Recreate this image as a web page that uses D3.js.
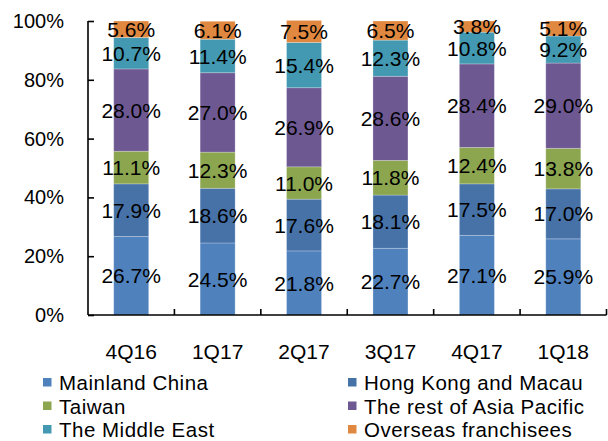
<!DOCTYPE html>
<html>
<head>
<meta charset="utf-8">
<script src="https://cdn.jsdelivr.net/npm/d3@7"></script>
<style>
  body { margin: 0; background: #fff; }
  svg { display: block; font-family: "Liberation Sans", Arial, sans-serif; }
</style>
</head>
<body>
<svg class="bar-chart"></svg>
<script>
const quarters = ['4Q16', '1Q17', '2Q17', '3Q17', '4Q17', '1Q18'];
const regions = ['Mainland China', 'Hong Kong and Macau', 'Taiwan', 'The rest of Asia Pacific', 'The Middle East', 'Overseas franchisees'];
const colors = ['#4f81bd', '#4672a8', '#8ca650', '#6e5892', '#4399b1', '#e0883f'];

const mainlandChina = [26.7, 24.5, 21.8, 22.7, 27.1, 25.9];
const hongKongMacau = [17.9, 18.6, 17.6, 18.1, 17.5, 17.0];
const taiwan = [11.1, 12.3, 11.0, 11.8, 12.4, 13.8];
const restOfAsia = [28.0, 27.0, 26.9, 28.6, 28.4, 29.0];
const middleEast = [10.7, 11.4, 15.4, 12.3, 10.8, 9.2];
const overseas = [5.6, 6.1, 7.5, 6.5, 3.8, 5.1];

const yTicks = [0, 20, 40, 60, 80, 100];

const seriesValues = [mainlandChina, hongKongMacau, taiwan, restOfAsia, middleEast, overseas];

const svgWidth = 608, svgHeight = 441;
const margin = { top: 21, right: 1.5, bottom: 126, left: 88 };
const width = svgWidth - margin.left - margin.right;
const height = svgHeight - margin.top - margin.bottom;

const table = quarters.map((q, i) => {
  const row = { quarter: q };
  regions.forEach((r, j) => { row[r] = seriesValues[j][i]; });
  return row;
});

const stacked = d3.stack().keys(regions)(table);

const svg = d3.select('svg.bar-chart')
  .attr('width', svgWidth)
  .attr('height', svgHeight);

const g = svg.append('g')
  .attr('transform', `translate(${margin.left}, ${margin.top})`);

const xBand = d3.scaleBand()
  .domain(quarters)
  .range([0, width]);

const y = d3.scaleLinear()
  .domain([0, 100])
  .range([height, 0]);

const color = d3.scaleOrdinal().domain(regions).range(colors);

// bars
const layer = g.selectAll('.layer')
  .data(stacked)
  .enter().append('g')
  .attr('fill', d => color(d.key));

layer.selectAll('rect')
  .data(d => d)
  .enter().append('rect')
  .attr('x', d => xBand(d.data.quarter) + xBand.bandwidth() / 2 - 17.5)
  .attr('width', 35)
  .attr('y', d => y(d[1]))
  .attr('height', d => y(d[0]) - y(d[1]))
  .attr('stroke', 'rgba(255,255,255,0.3)')
  .attr('stroke-width', 0.8);

// value labels
layer.selectAll('text')
  .data(d => d.map(v => Object.assign({ key: d.key }, v)))
  .enter().append('text')
  .attr('x', d => xBand(d.data.quarter) + xBand.bandwidth() / 2)
  .attr('y', d => (y(d[0]) + y(d[1])) / 2)
  .attr('dy', '0.36em')
  .attr('text-anchor', 'middle')
  .attr('fill', '#000')
  .style('font-size', '21px')
  .text(d => d.data[d.key].toFixed(1) + '%');

// y axis
const yAxis = g.append('g')
  .call(d3.axisRight(y).tickValues(yTicks).tickSize(6).tickFormat(d => d + '%'));
yAxis.select('.domain').attr('stroke', '#000').attr('stroke-width', 1.6).attr('d', `M0,0V${height}`);
yAxis.selectAll('.tick line').attr('stroke', '#000').attr('stroke-width', 1.6);
yAxis.selectAll('.tick text')
  .attr('x', -24)
  .attr('text-anchor', 'end')
  .attr('fill', '#000')
  .style('font-size', '20px');

// x axis
const xAxis = g.append('g')
  .attr('transform', `translate(0, ${height})`)
  .call(d3.axisBottom(xBand).tickSize(0).tickPadding(29));
xAxis.select('.domain').attr('stroke', '#000').attr('stroke-width', 1.6).attr('d', `M0,0H${width}`);
xAxis.selectAll('.tick text')
  .attr('fill', '#000')
  .style('font-size', '21px');

g.append('g')
  .selectAll('line')
  .data(quarters)
  .enter().append('line')
  .attr('x1', d => xBand(d) + xBand.bandwidth())
  .attr('x2', d => xBand(d) + xBand.bandwidth())
  .attr('y1', height)
  .attr('y2', height - 6)
  .attr('stroke', '#000')
  .attr('stroke-width', 1.6);

// legend
const legend = svg.append('g')
  .selectAll('g')
  .data(regions)
  .enter().append('g')
  .attr('transform', (d, i) => `translate(${i % 2 === 0 ? 43 : 348}, ${378 + Math.floor(i / 2) * 23.5})`);

legend.append('rect')
  .attr('width', 8.5)
  .attr('height', 8.5)
  .attr('fill', d => color(d));

legend.append('text')
  .attr('x', 16)
  .attr('y', 12)
  .attr('fill', '#000')
  .style('font-size', '20.5px')
  .style('letter-spacing', '0.5px')
  .text(d => d);
</script>
</body>
</html>
